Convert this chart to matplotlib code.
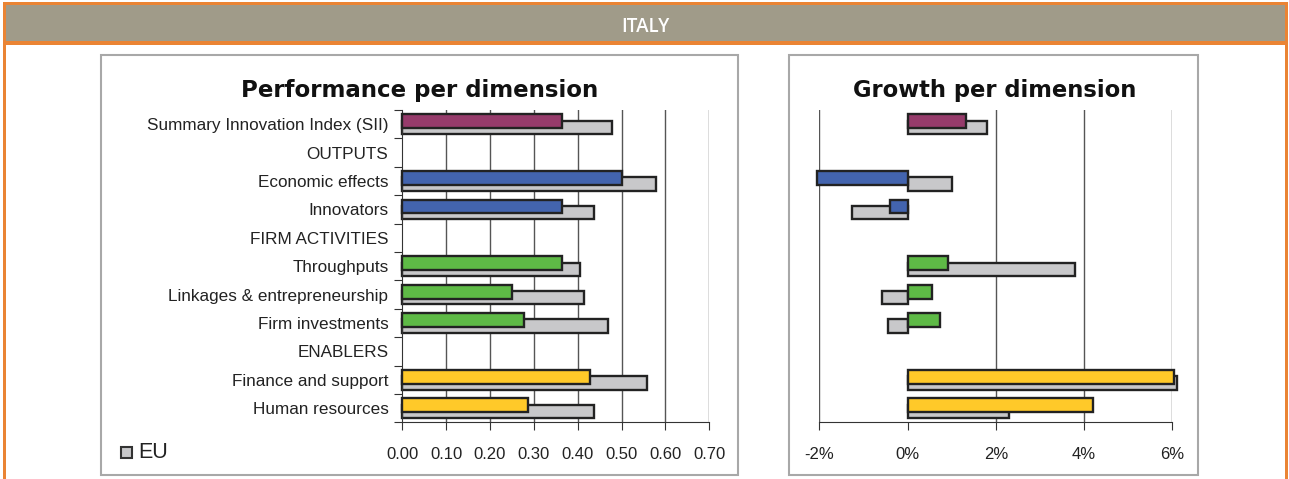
import matplotlib as mpl
import matplotlib.pyplot as plt
from matplotlib.patches import Rectangle
import numpy as np

nan = np.nan

# rows, top to bottom
categories = ["Summary Innovation Index (SII)", "OUTPUTS", "Economic effects", "Innovators",
              "FIRM ACTIVITIES", "Throughputs", "Linkages & entrepreneurship", "Firm investments",
              "ENABLERS", "Finance and support", "Human resources"]
it_perf = [0.364, nan, 0.500, 0.364, nan, 0.364, 0.251, 0.277, nan, 0.428, 0.287]
eu_perf = [0.478, nan, 0.578, 0.437, nan, 0.405, 0.414, 0.469, nan, 0.559, 0.437]
it_growth = [1.32, nan, -2.05, -0.40, nan, 0.91, 0.55, 0.73, nan, 6.04, 4.20]
eu_growth = [1.81, nan, 1.00, -1.26, nan, 3.79, -0.58, -0.44, nan, 6.10, 2.31]
perf_ticks = [0.0, 0.1, 0.2, 0.3, 0.4, 0.5, 0.6, 0.7]
growth_ticks = [-2, 0, 2, 4, 6]

purple = "#963b6b"
blue = "#4364ae"
green = "#5eba46"
yellow = "#ffc929"
grey = "#c8c8ca"
row_colors = [purple, "w", blue, blue, "w", green, green, green, "w", yellow, yellow]

W, H = 1289, 479
plt.rcParams['font.family'] = ['Liberation Sans', 'DejaVu Sans']
fig = plt.figure(figsize=(W / 100, H / 100), dpi=100)


def px(x0, y0, x1, y1):
    return [x0 / W, 1 - y1 / H, (x1 - x0) / W, (y1 - y0) / H]


# frame and header
bg = fig.add_axes([0, 0, 1, 1])
bg.set_xlim(0, W)
bg.set_ylim(H, 0)
bg.axis("off")
bg.add_patch(Rectangle((3, 2), W - 5, 40, facecolor="#a09b89", edgecolor="none"))
bg.add_patch(Rectangle((3, 2), W - 5, 3, facecolor="#ea8434", edgecolor="none"))
bg.add_patch(Rectangle((3, 41), W - 5, 3.5, facecolor="#ea8434", edgecolor="none"))
bg.add_patch(Rectangle((3, 2), 3, H, facecolor="#ea8434", edgecolor="none"))
bg.add_patch(Rectangle((W - 4, 2), 3, H, facecolor="#ea8434", edgecolor="none"))
bg.text(645, 27, "ITALY", color="white", fontsize=13.5, family="Open Sans",
        fontweight="semibold", ha="center", va="center")
bg.add_patch(Rectangle((100.5, 54.5), 637, 420, facecolor="none", edgecolor="#a8a8a8", lw=1.5))
bg.add_patch(Rectangle((789, 54.5), 409, 420, facecolor="none", edgecolor="#a8a8a8", lw=1.5))
bg.text(420, 90, "Performance per dimension", fontsize=16.5, family="DejaVu Sans",
        fontweight="bold", ha="center", va="center", color="#111111")
bg.text(995, 90, "Growth per dimension", fontsize=16.3, family="DejaVu Sans",
        fontweight="bold", ha="center", va="center", color="#111111")
bg.add_patch(Rectangle((121, 447), 11, 11, facecolor=grey, edgecolor="#333333", lw=1.5))
bg.text(138, 453, "EU", fontsize=15.5, ha="left", va="center", color="#222222")

y = np.arange(len(categories))


def draw(ax, it_vals, eu_vals, xlim, ticks, grid_at, fmt):
    ax.set_xlim(*xlim)
    ax.set_ylim(len(categories) - 0.5, -0.5)
    for g in grid_at:
        ax.axvline(g, color="#555555", lw=1.0, zorder=0)
    ax.barh(y + 0.11, eu_vals, height=0.47, color=grey, edgecolor="#222222", lw=1.7,
            zorder=2, clip_on=False)
    ax.barh(y - 0.10, it_vals, height=0.49, color=row_colors, edgecolor="#222222", lw=1.7,
            zorder=3, clip_on=False)
    for s in ["top", "right"]:
        ax.spines[s].set_visible(False)
    ax.spines["bottom"].set_color("#333333")
    ax.set_xticks(ticks)
    ax.set_xticklabels([fmt(t) for t in ticks])
    ax.tick_params(axis="x", length=6, color="#333333", labelsize=12, labelcolor="#222222", pad=12)
    ax.set_facecolor("none")


ax1 = fig.add_axes(px(402.3, 110, 709.3, 422.3))
draw(ax1, it_perf, eu_perf, (0, 0.7), perf_ticks, perf_ticks[1:], lambda t: f"{t:.2f}")
ax1.spines["left"].set_color("#333333")
ax1.set_yticks(np.arange(len(categories) + 1) - 0.5, minor=False)
ax1.set_yticklabels([])
ax1.set_yticks(y, minor=True)
ax1.set_yticklabels(categories, minor=True)
ax1.tick_params(axis="y", which="major", length=6, color="#333333")
ax1.tick_params(axis="y", which="minor", length=0, labelsize=12.3, labelcolor="#222222", pad=10)

ax2 = fig.add_axes(px(819.3, 110, 1172.3, 422.3))
draw(ax2, it_growth, eu_growth, (-2, 6), growth_ticks, [-2, 2, 4, 6], lambda t: f"{t}%")
ax2.spines["left"].set_visible(False)
ax2.set_yticks([])

fig.savefig("out.png", dpi=100)
